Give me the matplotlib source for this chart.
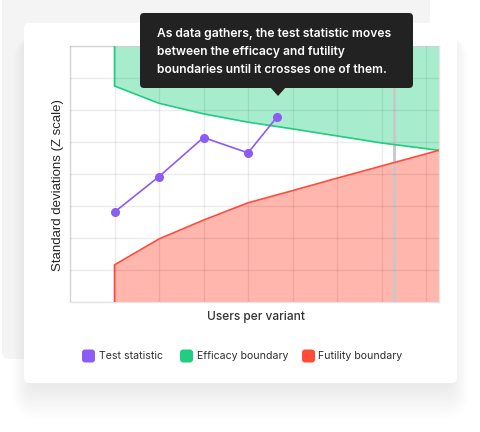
import matplotlib
matplotlib.use('Agg')
import matplotlib.pyplot as plt
from matplotlib.patches import FancyBboxPatch, Polygon
from matplotlib.transforms import IdentityTransform

W, H = 481, 432

# boundaries, in grid units (x: interim look, y: z scale)
boundary_x = [1, 2, 3, 4, 5, 6, 7, 8.29]
efficacy = [6.75, 6.21, 5.88, 5.62, 5.41, 5.19, 4.97, 4.74]
futility = [1.16, 1.97, 2.56, 3.10, 3.48, 3.87, 4.25, 4.74]

test_x = [1, 2, 3, 4, 4.65]
test_y = [2.81, 3.92, 5.14, 4.66, 5.78]

current_look = 7.28

series_names = ['Test statistic', 'Efficacy boundary', 'Futility boundary']
series_colors = ['#8b5cf6', '#22cc80', '#ff4a3a']

tooltip_lines = ['As data gathers, the test statistic moves',
                 'between the efficacy and futility',
                 'boundaries until it crosses one of them.']

ui_font = ['Inter', 'DejaVu Sans']


def box(fig, x0, y0, x1, y1, r, **kw):
    # pixel coords, origin top-left
    p = FancyBboxPatch((x0, H - y1), x1 - x0, y1 - y0,
                       boxstyle=f'round,pad=0,rounding_size={r}',
                       transform=IdentityTransform(), **kw)
    fig.patches.append(p)
    return p


def ftext(fig, x, y, s, **kw):
    return fig.text(x, H - y, s, transform=IdentityTransform(), **kw)


fig = plt.figure(figsize=(W / 100, H / 100), dpi=100)
fig.patch.set_facecolor('white')

# background panel and card with a soft shadow
box(fig, 2, -10, 430, 359, 7, facecolor='#f4f4f4', edgecolor='none', zorder=-20)
for i in range(20):
    box(fig, 30 - i * 0.9, 23 + 14, 451 + i * 0.9, 383 + 4 + i * 1.7, 6 + i,
        facecolor='black', edgecolor='none', alpha=0.0035, zorder=-15)
box(fig, 24, 23, 457, 383, 5, facecolor='white', edgecolor='none', zorder=-10)

ax = fig.add_axes([70 / W, 1 - 302 / H, 369 / W, 256 / H])
ax.set_facecolor('white')
ax.set_xlim(0, 8.29)
ax.set_ylim(0, 8)

top = 8
ax.fill_between(boundary_x, efficacy, top, color='#a7edcd', lw=0, zorder=1)
ax.fill_between(boundary_x, 0, futility, color='#ffb6ad', lw=0, zorder=1)
ax.plot([boundary_x[0]] + boundary_x, [top] + efficacy, color=series_colors[1], lw=1.2, zorder=3)
ax.plot([boundary_x[0]] + boundary_x, [0] + futility, color=series_colors[2], lw=1.2, zorder=3)

ax.axvline(current_look, color='#c8c8c8', lw=2, zorder=2)

ax.plot(test_x, test_y, color=series_colors[0], lw=1.2, marker='o', ms=5.5, zorder=4)

ax.set_xticks(range(0, 9))
ax.set_yticks(range(0, 9))
ax.tick_params(length=0, labelbottom=False, labelleft=False)
ax.grid(True, color='black', alpha=0.075, lw=1, zorder=2)
ax.set_axisbelow(False)
for s in ax.spines.values():
    s.set_color('#e4e4e4')
    s.set_linewidth(1)

ftext(fig, 58, 185, 'Standard deviations (Z scale)', rotation=90, ha='center', va='center',
      fontsize=9.5, color='#262626', family='Liberation Sans')
ftext(fig, 255.5, 317, 'Users per variant', ha='center', va='center',
      fontsize=8.6, color='#333333', family=ui_font, weight='medium')

# legend
sq_x = [82, 180, 302]
txt_x = [99.3, 197.3, 318.3]
for name, col, sx, tx in zip(series_names, series_colors, sq_x, txt_x):
    box(fig, sx, 349.5, sx + 13, 362.5, 3, facecolor=col, edgecolor='none', zorder=5)
    ftext(fig, tx, 356, name, ha='left', va='center', fontsize=7.6, color='#2e2e2e',
          family=ui_font)

# tooltip
box(fig, 140, 13, 413, 88, 4, facecolor='#222222', edgecolor='none', zorder=10)
tri = Polygon([(270, H - 87), (286, H - 87), (278, H - 96)], closed=True,
              transform=IdentityTransform(), facecolor='#222222', edgecolor='none', zorder=10)
fig.patches.append(tri)
for i, line in enumerate(tooltip_lines):
    ftext(fig, 157, 33.7 + i * 18, line, ha='left', va='center', fontsize=8.7,
          color='white', family=ui_font, weight='semibold', zorder=11)

fig.savefig('out.png', dpi=100)
